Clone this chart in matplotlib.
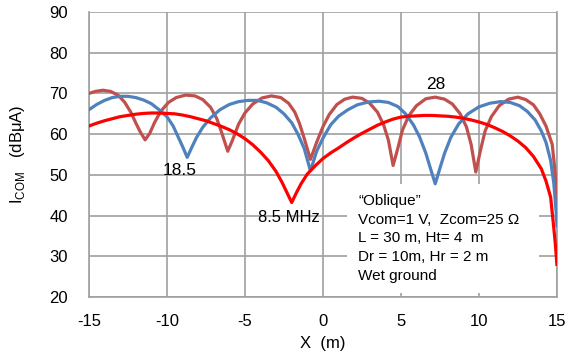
import matplotlib
matplotlib.use("Agg")
import matplotlib.pyplot as plt
from matplotlib.patches import Rectangle

plt.rcParams['font.family'] = ['Liberation Sans', 'DejaVu Sans']
plt.rcParams['mathtext.fontset'] = 'custom'
plt.rcParams['mathtext.rm'] = 'Liberation Sans'
plt.rcParams['axes.unicode_minus'] = False

# 18.5 MHz (blue)
x_185 = [-15, -14.5, -14, -13.5, -13, -12.5, -12, -11.5, -11, -10.5, -10, -9.6, -9.3, -9.0,
         -8.7, -8.4, -8.1, -7.7, -7.2, -6.6, -6, -5.4, -4.8, -4.2, -3.6, -3.0, -2.5, -2.0,
         -1.6, -1.2, -0.8, -0.4, 0.0, 0.5, 1.0, 1.6, 2.2, 2.9, 3.6, 4.2, 4.8, 5.3, 5.8, 6.2,
         6.6, 6.9, 7.2, 7.5, 7.8, 8.2, 8.7, 9.3, 10, 10.7, 11.4, 12, 12.6, 13.1, 13.6, 14.0,
         14.3, 14.6, 14.8, 14.95, 15.0]
y_185 = [66.0, 67.3, 68.3, 69.0, 69.3, 69.3, 69.0, 68.4, 67.5, 66.0, 64.3, 62.0, 59.5, 57.0,
         54.3, 56.8, 59.2, 61.7, 64.0, 66.0, 67.3, 68.0, 68.3, 68.3, 67.7, 66.6, 65.0, 62.8,
         60.0, 56.5, 51.0, 55.8, 59.0, 62.3, 64.4, 66.0, 67.2, 67.9, 68.1, 67.8, 66.8, 65.0,
         62.3, 59.3, 55.3, 51.5, 47.8, 51.6, 55.3, 59.2, 62.5, 65.0, 66.7, 67.6, 68.0, 67.8,
         67.0, 65.6, 63.5, 60.8, 58.0, 53.5, 48.0, 41.0, 37.5]

# 28 MHz (brown)
x_28 = [-15, -14.6, -14.1, -13.6, -13.1, -12.7, -12.3, -12.0, -11.7, -11.4, -11.1, -10.8,
        -10.4, -9.9, -9.4, -8.8, -8.2, -7.7, -7.2, -6.8, -6.5, -6.1, -5.8, -5.4, -5.0, -4.5,
        -3.9, -3.3, -2.7, -2.2, -1.8, -1.5, -1.2, -0.8, -0.4, 0.0, 0.4, 0.9, 1.4, 1.9, 2.5,
        3.0, 3.5, 3.9, 4.2, 4.5, 4.8, 5.1, 5.5, 6.0, 6.6, 7.2, 7.8, 8.3, 8.8, 9.2, 9.5, 9.8,
        10.1, 10.4, 10.8, 11.3, 11.9, 12.5, 13.0, 13.5, 13.9, 14.3, 14.7, 14.85, 14.95, 15.0]
y_28 = [70.0, 70.5, 70.8, 70.5, 69.5, 67.8, 65.3, 62.8, 60.5, 58.6, 60.2, 62.8,
        65.6, 67.8, 69.0, 69.6, 69.4, 68.5, 66.6, 63.8, 60.5, 55.8, 58.5, 62.5, 65.2, 67.4,
        68.9, 69.4, 69.0, 67.6, 65.4, 62.6, 59.0, 53.8, 58.0, 61.8, 64.8, 67.3, 68.6, 69.1, 68.8,
        67.6, 65.4, 62.2, 58.5, 52.3, 56.5, 61.0, 64.5, 67.0, 68.7, 69.1, 68.6, 67.4, 65.0, 61.8,
        57.5, 50.7, 56.0, 60.8, 64.3, 67.0, 68.6, 69.1, 68.5, 67.2, 65.0, 62.0, 57.5, 52.0,
        47.0, 42.0]

# 8.5 MHz (red)
x_85 = [-15, -14.5, -14, -13.5, -13, -12.5, -12, -11.5, -11, -10.5, -10, -9.5, -9, -8.5, -8,
        -7.5, -7, -6.5, -6, -5.5, -5, -4.5, -4, -3.5, -3.0, -2.6, -2.3, -2.0, -1.7, -1.4, -1.0,
        -0.5, 0, 0.5, 1, 1.5, 2, 2.5, 3, 3.5, 4, 4.5, 5, 5.5, 6, 6.5, 7, 7.5, 8, 8.5, 9, 9.5,
        10, 10.5, 11, 11.5, 12, 12.5, 13, 13.5, 14, 14.3, 14.6, 14.8, 14.9, 15.0]
y_85 = [62.0, 62.7, 63.3, 63.8, 64.3, 64.6, 64.9, 65.1, 65.2, 65.2, 65.1, 65.0, 64.7, 64.3, 63.8,
        63.3, 62.6, 61.9, 61.1, 60.1, 58.9, 57.4, 55.6, 53.5, 50.8, 48.0, 45.6, 43.2, 45.6, 47.8, 50.2,
        52.2, 54.0, 55.4, 56.6, 57.9, 59.1, 60.2, 61.2, 62.2, 63.0, 63.7, 64.2, 64.4, 64.5, 64.6, 64.6,
        64.5, 64.4, 64.2, 63.9, 63.5, 63.0, 62.4, 61.6, 60.7, 59.6, 58.3, 56.7, 54.5, 51.5, 48.5,
        44.5, 37.0, 33.0, 28.0]

info_lines = ['\u201cOblique\u201d',
              'Vcom=1 V,  Zcom=25 \u03a9',
              'L = 30 m, Ht= 4  m',
              'Dr = 10m, Hr = 2 m',
              'Wet ground']

fig = plt.figure(figsize=(5.7, 3.56), dpi=100)
ax = fig.add_axes([0.156, 0.166, 0.821, 0.80])

lw = 2.3
ax.plot(x_28, y_28, color='#C0504D', lw=lw, solid_joinstyle='round', zorder=3)
ax.plot(x_185, y_185, color='#4F81BD', lw=lw, solid_joinstyle='round', zorder=3)
ax.plot(x_85, y_85, color='#FF0000', lw=lw, solid_joinstyle='round', zorder=4)

ax.set_xlim(-15, 15)
ax.set_ylim(20, 90)
ax.set_xticks([-15, -10, -5, 0, 5, 10, 15])
ax.set_yticks([20, 30, 40, 50, 60, 70, 80, 90])
ax.grid(True, color='#A0A0A0', lw=1.2)
ax.set_axisbelow(True)
ax.tick_params(length=0, labelsize=12)
ax.tick_params(axis='y', pad=15)
ax.tick_params(axis='x', pad=12)
for s in ax.spines.values():
    s.set_color('#A0A0A0')
    s.set_linewidth(1.2)
ax.spines['top'].set_visible(False)

ax.set_xlabel('X  (m)', fontsize=12, labelpad=5)
ax.set_ylabel('I$_{\\mathrm{COM}}$   (dB\u03bcA)', fontsize=12, labelpad=16)

# white panel behind the parameter text
ax.add_patch(Rectangle((1.55, 21.0), 12.3, 26.8, facecolor='white', edgecolor='none', zorder=1))
for i, line in enumerate(info_lines):
    ax.text(2.25, 43.6 - i * 4.6, line, fontsize=11, va='center', ha='left', zorder=5)

ax.text(-9.2, 51.0, '18.5', fontsize=12.5, ha='center', va='center', zorder=5)
ax.text(-2.15, 39.6, '8.5 MHz', fontsize=12, ha='center', va='center', zorder=5)
ax.text(7.25, 72.3, '28', fontsize=12.5, ha='center', va='center', zorder=5)

fig.savefig('out.png', dpi=100)
